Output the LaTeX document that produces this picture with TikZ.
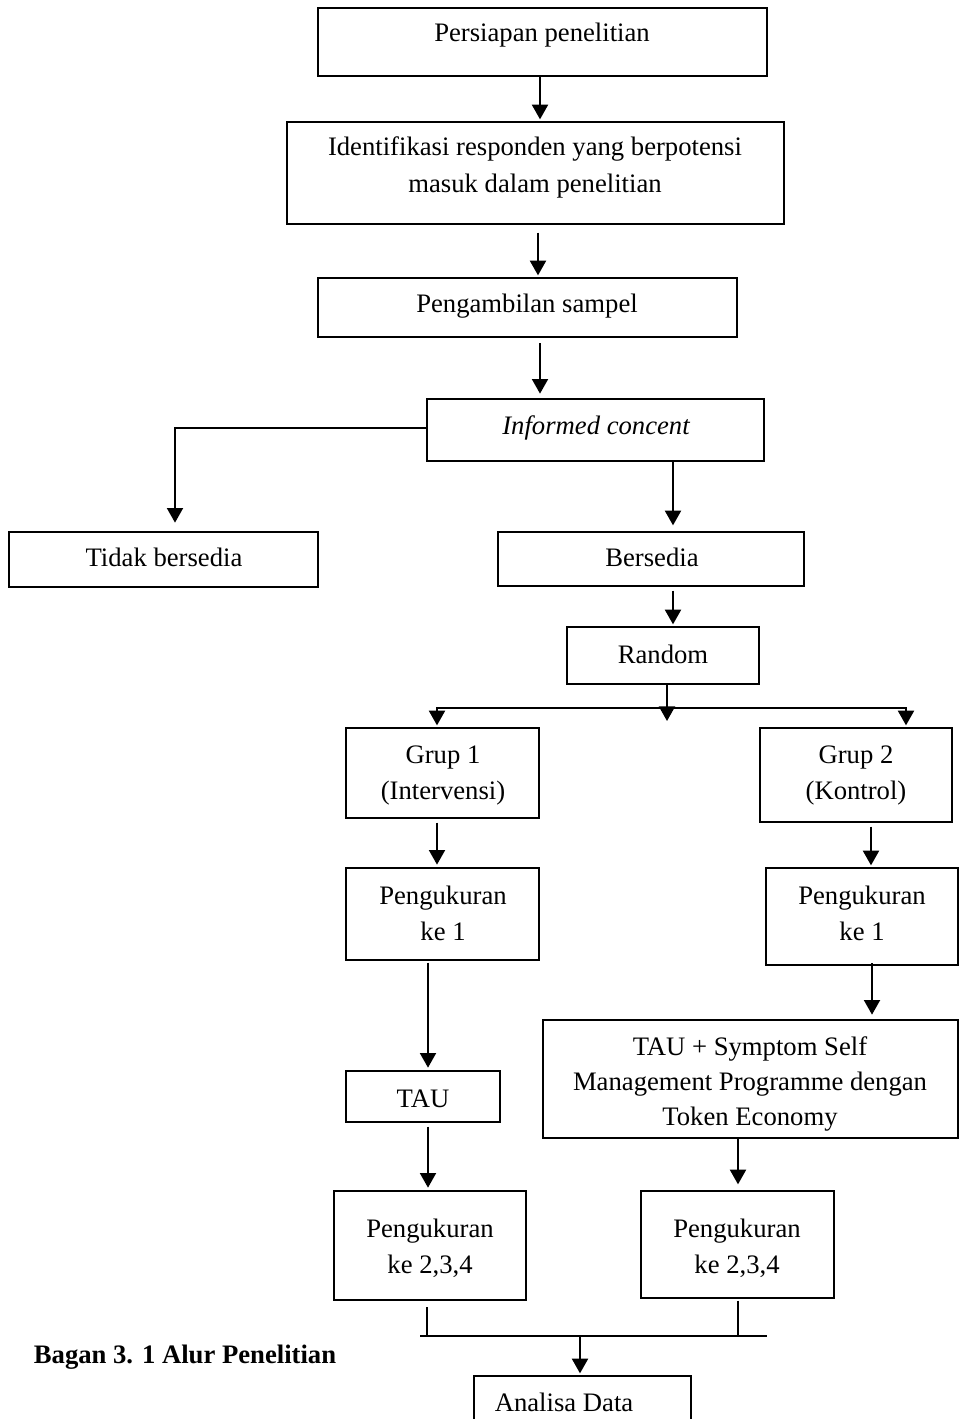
\documentclass[tikz,border=0pt]{standalone}
\usepackage{fontspec}
\setmainfont{Liberation Serif}
\usetikzlibrary{arrows.meta,calc}
\begin{document}
\begin{tikzpicture}[x=0.75pt,y=-0.75pt,
  box/.style={draw,line width=1pt,inner sep=0pt},
  txt/.style={inner sep=0pt,anchor=base,font=\fontsize{20}{26.5}\selectfont},
  arr/.style={line width=1.5pt,-{Triangle[width=12pt,length=11pt]}},
  ln/.style={line width=1.2pt}]
\useasboundingbox (0,0) rectangle (961,1419);
\clip (0,0) rectangle (961,1419);
% boxes
\node[box,minimum width=449*0.75pt,minimum height=68*0.75pt] (n1) at (542.5,42) {};
\node[box,minimum width=497*0.75pt,minimum height=102*0.75pt] (n2) at (535.5,173) {};
\node[box,minimum width=419*0.75pt,minimum height=59*0.75pt] (n3) at (527.5,307.5) {};
\node[box,minimum width=337*0.75pt,minimum height=62*0.75pt] (n4) at (595.5,430) {};
\node[box,minimum width=309*0.75pt,minimum height=55*0.75pt] (n5) at (163.5,559.5) {};
\node[box,minimum width=306*0.75pt,minimum height=54*0.75pt] (n6) at (651,559) {};
\node[box,minimum width=192*0.75pt,minimum height=57*0.75pt] (n7) at (663,655.5) {};
\node[box,minimum width=193*0.75pt,minimum height=90*0.75pt] (n8) at (442.5,773) {};
\node[box,minimum width=192*0.75pt,minimum height=94*0.75pt] (n9) at (856,775) {};
\node[box,minimum width=193*0.75pt,minimum height=92*0.75pt] (n10) at (442.5,914) {};
\node[box,minimum width=192*0.75pt,minimum height=97*0.75pt] (n11) at (862,916.5) {};
\node[box,minimum width=154*0.75pt,minimum height=51*0.75pt] (n12) at (423,1096.5) {};
\node[box,minimum width=415*0.75pt,minimum height=118*0.75pt] (n13) at (750.5,1079) {};
\node[box,minimum width=192*0.75pt,minimum height=109*0.75pt] (n14) at (430,1245.5) {};
\node[box,minimum width=193*0.75pt,minimum height=107*0.75pt] (n15) at (737.5,1244.5) {};
\node[box,minimum width=217*0.75pt,minimum height=80*0.75pt] (n16) at (582.5,1416) {};
% texts (one node per printed line, placed on its baseline)
\node[txt] (t1) at (542,42) {Persiapan penelitian};
\node[txt] (t2a) at (535,156) {Identifikasi responden yang berpotensi};
\node[txt] (t2b) at (535,193) {masuk dalam penelitian};
\node[txt] (t3) at (527,313) {Pengambilan sampel};
\node[txt] (t4) at (596,434) {\itshape Informed concent};
\node[txt] (t5) at (164,566) {Tidak bersedia};
\node[txt] (t6) at (652,566) {Bersedia};
\node[txt] (t7) at (663,663) {Random};
\node[txt] (t8a) at (443,763) {Grup 1};
\node[txt] (t8b) at (443,799) {(Intervensi)};
\node[txt] (t9a) at (856,763) {Grup 2};
\node[txt] (t9b) at (856,799) {(Kontrol)};
\node[txt] (t10a) at (443,904) {Pengukuran};
\node[txt] (t10b) at (443,940) {ke 1};
\node[txt] (t11a) at (862,904) {Pengukuran};
\node[txt] (t11b) at (862,940) {ke 1};
\node[txt] (t12) at (423,1107) {TAU};
\node[txt] (t13a) at (750,1055) {TAU + Symptom Self};
\node[txt] (t13b) at (750,1090) {Management Programme dengan};
\node[txt] (t13c) at (750,1125) {Token Economy};
\node[txt] (t14a) at (430,1237) {Pengukuran};
\node[txt] (t14b) at (430,1273) {ke 2,3,4};
\node[txt] (t15a) at (737,1237) {Pengukuran};
\node[txt] (t15b) at (737,1273) {ke 2,3,4};
\node[txt] (t16) at (564,1411) {Analisa Data};
\node[txt,font=\fontsize{20}{26.5}\selectfont\bfseries] (cap) at (185,1363) {Bagan 3. 1 Alur Penelitian};
% connectors
\draw[arr,shorten >=1.5pt] (n1.south -| 540,0) -- (n2.north -| 540,0);
\draw[arr,shorten <=6pt,shorten >=1.5pt] (n2.south -| 538,0) -- (n3.north -| 538,0);
\draw[arr,shorten <=4pt,shorten >=3.5pt] (n3.south -| 540,0) -- (n4.north -| 540,0);
\draw[arr,shorten >=6.5pt] (n4.west |- 0,428) -| (n5.north -| 175,0);
\draw[arr,shorten >=4.5pt] (n4.south -| 673,0) -- (n6.north -| 673,0);
\draw[arr,shorten <=3pt,shorten >=1.5pt] (n6.south -| 673,0) -- (n7.north -| 673,0);
\coordinate (sp) at (667,708);
\coordinate (spt) at (667,721);
\draw[arr] (n7.south -| sp) -- (spt);
\draw[arr,shorten >=1.5pt] (sp) -| (n8.north -| 437,0);
\draw[arr,shorten >=1.5pt] (sp) -| (n9.north -| 906,0);
\draw[arr,shorten <=3pt,shorten >=2pt] (n8.south -| 437,0) -- (n10.north -| 437,0);
\draw[arr,shorten <=3pt,shorten >=1.5pt] (n9.south -| 871,0) -- (n11.north -| 871,0);
\draw[arr,shorten <=1.5pt,shorten >=2pt] (n10.south -| 428,0) -- (n12.north -| 428,0);
\draw[arr,shorten <=-2pt,shorten >=3.5pt] (n11.south -| 872,0) -- (n13.north -| 872,0);
\draw[arr,shorten <=3pt,shorten >=2pt] (n12.south -| 428,0) -- (n14.north -| 428,0);
\draw[arr,shorten >=4.5pt] (n13.south -| 738,0) -- (n15.north -| 738,0);
\coordinate (ml) at (420,1336);
\coordinate (mr) at (767,1336);
\draw[ln] (ml) -- (mr);
\draw[ln,shorten <=5pt] (n14.south -| 427,0) -- (ml -| 427,0);
\draw[ln,shorten <=1.5pt] (n15.south -| 738,0) -- (ml -| 738,0);
\draw[arr,shorten >=1.5pt] (ml -| 580,0) -- (n16.north -| 580,0);
\end{tikzpicture}
\end{document}
